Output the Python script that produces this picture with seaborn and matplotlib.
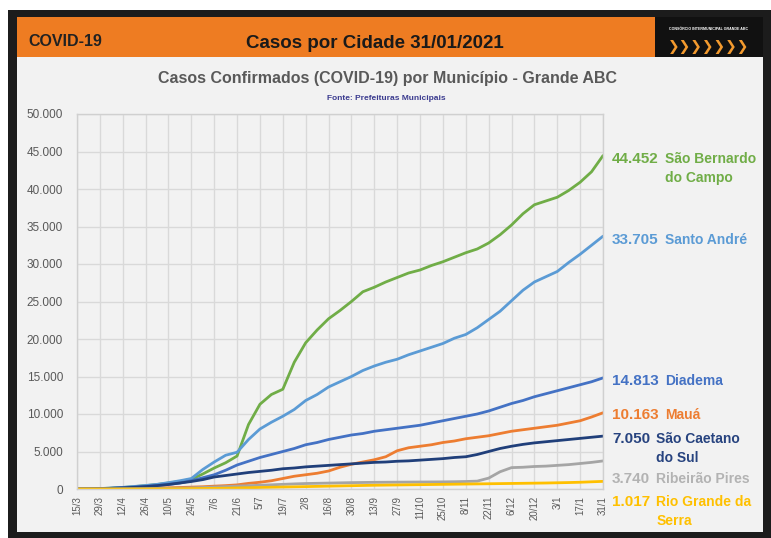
import pandas as pd
import seaborn as sns
import matplotlib.pyplot as plt
from matplotlib.patches import Rectangle

W, H = 771, 538

# datas semanais (15/3/2020 a 31/1/2021)
dates = pd.date_range("2020-03-15", "2021-01-31", freq="7D")
tick_dates = pd.date_range("2020-03-15", "2021-01-31", freq="14D")
tick_labels = ["15/3", "29/3", "12/4", "26/4", "10/5", "24/5", "7/6", "21/6", "5/7", "19/7",
               "2/8", "16/8", "30/8", "13/9", "27/9", "11/10", "25/10", "8/11", "22/11",
               "6/12", "20/12", "3/1", "17/1", "31/1"]

sbc = [0, 10, 50, 120, 200, 320, 450, 600, 800, 1000, 1300, 2000, 2800, 3500, 4400, 8600,
       11300, 12600, 13300, 16900, 19500, 21200, 22700, 23800, 25000, 26300, 26900, 27600,
       28200, 28800, 29200, 29800, 30300, 30900, 31500, 32000, 32800, 33900, 35200, 36700,
       37900, 38400, 38900, 39800, 40900, 42300, 44452]
sa = [0, 10, 60, 130, 220, 340, 470, 620, 850, 1100, 1400, 2600, 3600, 4500, 4900, 6600,
      8000, 8900, 9700, 10600, 11800, 12600, 13600, 14300, 15000, 15800, 16400, 16900,
      17300, 17900, 18400, 18900, 19400, 20100, 20600, 21500, 22600, 23700, 25100, 26500,
      27600, 28300, 29000, 30200, 31300, 32500, 33705]
diadema = [0, 10, 40, 90, 160, 250, 360, 480, 620, 800, 1100, 1500, 1900, 2500, 3200, 3700,
           4200, 4600, 5000, 5400, 5900, 6200, 6600, 6900, 7200, 7400, 7700, 7900, 8100,
           8300, 8500, 8800, 9100, 9400, 9700, 10000, 10400, 10900, 11400, 11800, 12300,
           12700, 13100, 13500, 13900, 14300, 14813]
maua = [0, 5, 15, 30, 50, 70, 100, 130, 160, 200, 250, 300, 380, 450, 550, 750, 900, 1100,
        1400, 1700, 1900, 2100, 2400, 2900, 3300, 3600, 3900, 4300, 5100, 5500, 5700, 5900,
        6200, 6400, 6700, 6900, 7100, 7400, 7700, 7900, 8100, 8300, 8500, 8800, 9100, 9600,
        10163]
scs = [0, 10, 40, 90, 150, 220, 320, 450, 600, 800, 1000, 1250, 1600, 1800, 2000, 2200,
       2350, 2500, 2700, 2800, 2950, 3050, 3150, 3250, 3350, 3450, 3550, 3600, 3700, 3750,
       3850, 3950, 4050, 4200, 4300, 4600, 5000, 5400, 5700, 5950, 6150, 6300, 6450, 6600,
       6750, 6900, 7050]
rp = [0, 2, 5, 10, 20, 30, 45, 60, 80, 110, 150, 200, 260, 320, 380, 440, 500, 560, 620,
      680, 730, 760, 790, 820, 850, 870, 890, 900, 910, 920, 930, 940, 950, 970, 1000, 1050,
      1450, 2300, 2850, 2900, 3000, 3050, 3150, 3250, 3400, 3550, 3740]
rgs = [0, 0, 1, 3, 5, 8, 12, 18, 25, 35, 50, 70, 90, 110, 140, 170, 200, 230, 260, 290,
       320, 350, 380, 410, 440, 470, 500, 520, 540, 560, 580, 600, 620, 640, 660, 680, 700,
       720, 740, 760, 780, 800, 830, 860, 900, 960, 1017]

cidades = ["São Bernardo do Campo", "Santo André", "Diadema", "Mauá",
           "São Caetano do Sul", "Ribeirão Pires", "Rio Grande da Serra"]
series = [sbc, sa, diadema, maua, scs, rp, rgs]
cores = ["#70ad47", "#5b9bd5", "#4472c4", "#ed7d31", "#203f7a", "#a5a5a5", "#ffc000"]
txt_cores = ["#70ad47", "#5b9bd5", "#4472c4", "#ed7d31", "#27437f", "#b3b3b3", "#ffc000"]
numeros = ["44.452", "33.705", "14.813", "10.163", "7.050", "3.740", "1.017"]
nomes = [["São Bernardo", "do Campo"], ["Santo André"], ["Diadema"], ["Mauá"],
         ["São Caetano", "do Sul"], ["Ribeirão Pires"], ["Rio Grande da", "Serra"]]
label_px = [163, 244, 385, 419, 443, 483, 506]  # linha de base dos rótulos (px)

df = pd.DataFrame({
    "data": list(dates) * len(cidades),
    "casos": sum(series, []),
    "cidade": sum([[c] * len(dates) for c in cidades], []),
})

sns.set_theme(style="white")
plt.rcParams["font.family"] = ["Liberation Sans", "DejaVu Sans"]

fig = plt.figure(figsize=(W / 100, H / 100), dpi=100)
fig.patch.set_facecolor("white")


def box(x0, y0, x1, y1, color):
    fig.add_artist(Rectangle((x0 / W, 1 - y1 / H), (x1 - x0) / W, (y1 - y0) / H,
                             transform=fig.transFigure, facecolor=color,
                             edgecolor="none", zorder=-10))


def ftext(x, y, s, **kw):
    fig.text(x / W, 1 - y / H, s, **kw)


# moldura e cabeçalho
box(8, 10, 771, 538, "#1c1c1c")
box(17, 17, 763, 532, "#f2f2f2")
box(17, 17, 655, 57, "#ee7c22")
box(655, 17, 763, 57, "#111111")

ftext(28, 42, "COVID-19", weight="bold", fontsize=11.5, color="#222222", va="center")
ftext(375, 43, "Casos por Cidade 31/01/2021", weight="bold", fontsize=13.5,
      color="#1a1a1a", ha="center", va="center")
ftext(709, 29, "CONSÓRCIO INTERMUNICIPAL GRANDE ABC", fontsize=2.6, weight="bold",
      color="white", ha="center", va="center")
ftext(709, 47, "❯❯❯❯❯❯❯", family=["DejaVu Sans"], fontsize=10, weight="bold",
      color="#f39a2e", ha="center", va="center")

ftext(387, 78, "Casos Confirmados (COVID-19) por Município - Grande ABC",
      weight="bold", fontsize=11.5, color="#595959", ha="center", va="center")
ftext(386, 98, "Fonte: Prefeituras Municipais", fontsize=6, weight="bold",
      color="#3b3b8f", ha="center", va="center")

# gráfico
ax = fig.add_axes([77 / W, 1 - 489 / H, (603 - 77) / W, (489 - 114) / H])
ax.set_facecolor("#f2f2f2")
sns.lineplot(data=df, x="data", y="casos", hue="cidade", hue_order=cidades,
             palette=cores, linewidth=2, legend=False, ax=ax)

ax.set_xlim(dates[0], dates[-1])
ax.set_ylim(0, 50000)
ax.set_xticks(tick_dates)
ax.set_xticklabels(tick_labels, rotation=90, fontsize=7, color="#595959")
yt = list(range(0, 50001, 5000))
ax.set_yticks(yt)
ax.set_yticklabels([f"{v:,}".replace(",", ".") for v in yt], fontsize=8.5, color="#595959")
ax.tick_params(axis="y", length=0, pad=10)
ax.tick_params(axis="x", length=0, pad=5)
ax.grid(True, color="#d9d9d9", linewidth=1)
ax.set_axisbelow(True)
for s in ax.spines.values():
    s.set_color("#d0d0d0")
    s.set_linewidth(1)
ax.set_xlabel("")
ax.set_ylabel("")

# rótulos finais
fig.canvas.draw()
renderer = fig.canvas.get_renderer()
trans = ax.get_yaxis_transform()
px_val = 50000 / 375
for num, linhas, ypx, cor in zip(numeros, nomes, label_px, txt_cores):
    yv = (489 - ypx) * px_val
    t = ax.text(1 + 9 / 526, yv, num, transform=trans, fontsize=11, weight="bold",
                color=cor, va="baseline", ha="left", clip_on=False)
    bb = t.get_window_extent(renderer)
    x1 = ax.transAxes.inverted().transform((bb.x1 + 6, 0))[0]
    for i, linha in enumerate(linhas):
        ax.text(x1, yv - i * 19 * px_val, linha, transform=trans, fontsize=10,
                weight="bold", color=cor, va="baseline", ha="left", clip_on=False)

fig.savefig("out.png", dpi=100)
